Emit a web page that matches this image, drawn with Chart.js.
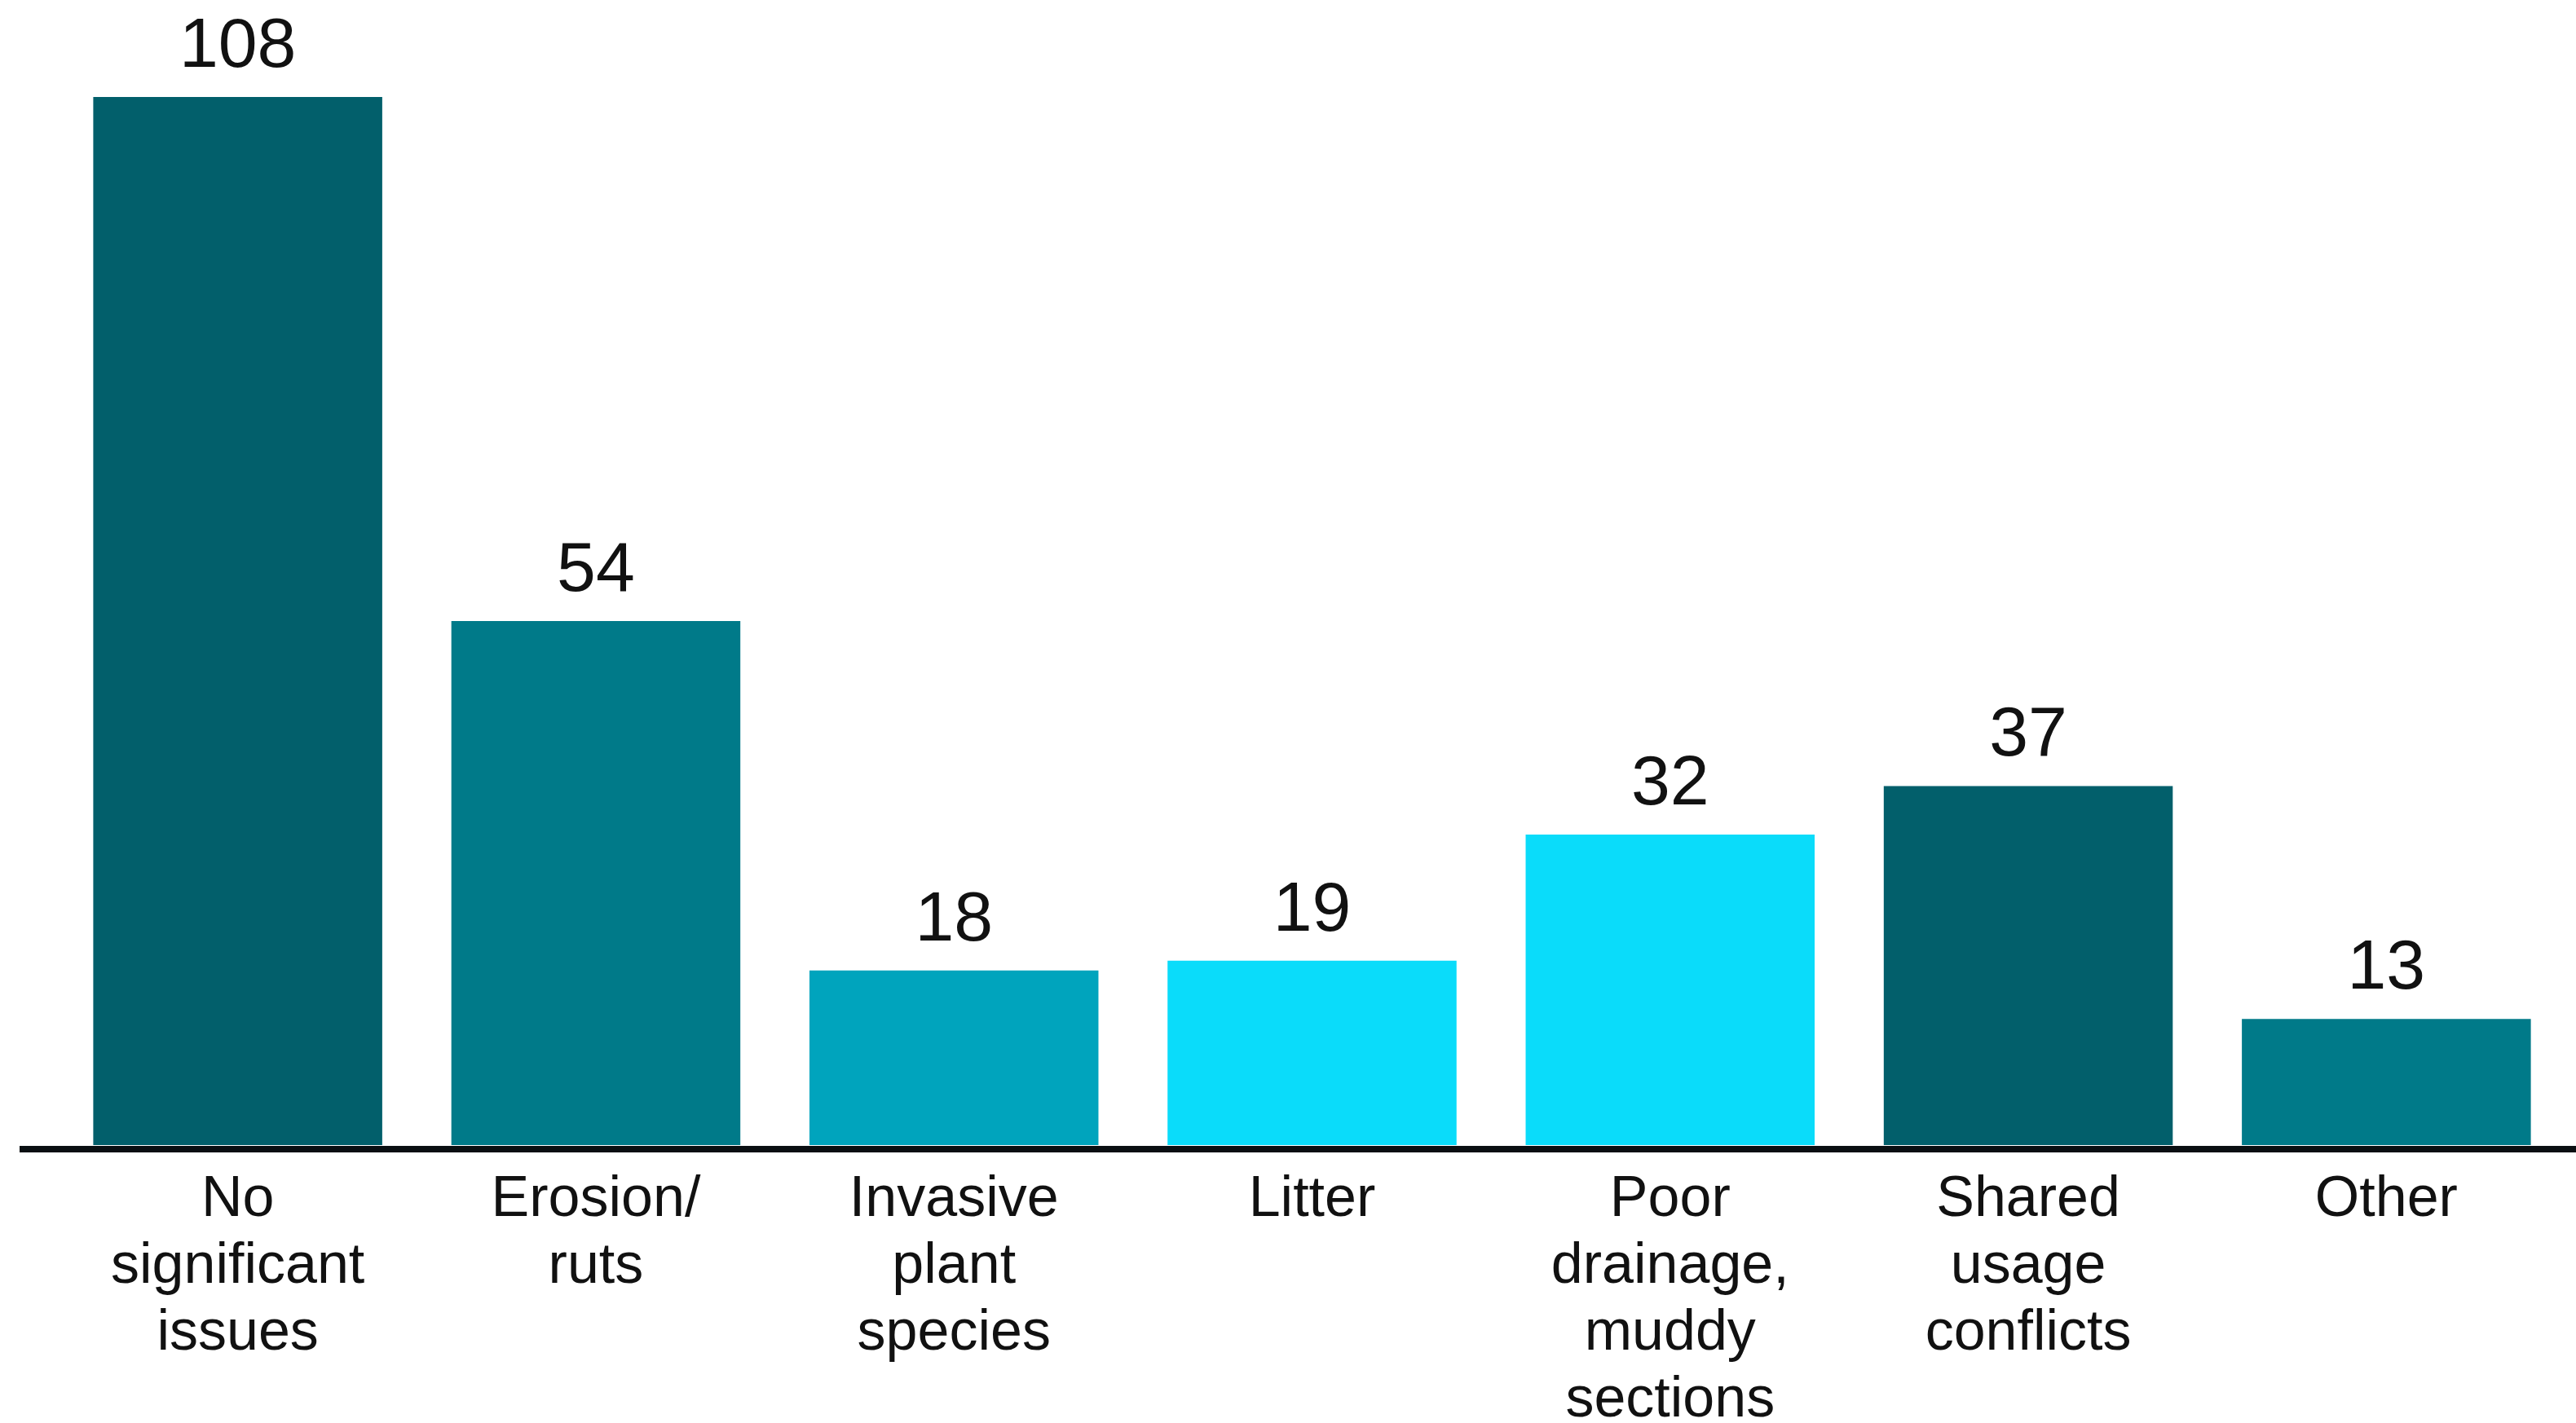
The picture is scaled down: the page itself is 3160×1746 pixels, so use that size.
<!DOCTYPE html>
<html>
<head>
<meta charset="utf-8">
<script src="https://cdn.jsdelivr.net/npm/chart.js@4.4.1/dist/chart.umd.min.js"></script>
<style>
  html, body { margin: 0; padding: 0; background: #fff; }
  #wrap { width: 3160px; height: 1746px; position: relative; }
</style>
</head>
<body>
<div id="wrap"><canvas id="chart"></canvas></div>
<script>
const categories = [
  ["No", "significant", "issues"],
  ["Erosion/", "ruts"],
  ["Invasive", "plant", "species"],
  ["Litter"],
  ["Poor", "drainage,", "muddy", "sections"],
  ["Shared", "usage", "conflicts"],
  ["Other"]
];
const counts = [108, 54, 18, 19, 32, 37, 13];
const barColors = ["#025f6b", "#007a89", "#00a4bd", "#0adcfa", "#0adcfa", "#025f6b", "#007a89"];

// value labels above each bar
const valueLabels = {
  id: "valueLabels",
  afterDatasetsDraw(chart) {
    const ctx = chart.ctx;
    const meta = chart.getDatasetMeta(0);
    ctx.save();
    ctx.font = "86px 'Liberation Sans', Arial, sans-serif";
    ctx.fillStyle = "#111";
    ctx.textAlign = "center";
    ctx.textBaseline = "alphabetic";
    meta.data.forEach((bar, i) => {
      ctx.fillText(String(counts[i]), bar.x, bar.y - 37);
    });
    ctx.restore();
  }
};

// baseline rule running across the full width
const baseLine = {
  id: "baseLine",
  afterDatasetsDraw(chart) {
    const ctx = chart.ctx;
    const y = chart.scales.y.getPixelForValue(0) + 5;
    ctx.save();
    ctx.strokeStyle = "#0a0f12";
    ctx.lineWidth = 8;
    ctx.beginPath();
    ctx.moveTo(24, y);
    ctx.lineTo(chart.width, y);
    ctx.stroke();
    ctx.restore();
  }
};

new Chart(document.getElementById("chart"), {
  type: "bar",
  data: {
    labels: categories,
    datasets: [{
      data: counts,
      backgroundColor: barColors,
      borderWidth: 0,
      categoryPercentage: 1,
      barPercentage: 0.807
    }]
  },
  options: {
    responsive: true,
    maintainAspectRatio: false,
    animation: false,
    layout: { padding: { left: 72, right: 13, top: 0, bottom: 0 } },
    plugins: { legend: { display: false }, tooltip: { enabled: false } },
    scales: {
      y: {
        display: false,
        min: 0,
        max: 118
      },
      x: {
        grid: { display: false, drawTicks: false },
        border: { display: false },
        afterFit(scale) { scale.height = 341; },
        ticks: {
          color: "#111",
          padding: 27,
          maxRotation: 0,
          autoSkip: false,
          font: { family: "'Liberation Sans', Arial, sans-serif", size: 70, lineHeight: 1.17 }
        }
      }
    }
  },
  plugins: [valueLabels, baseLine]
});
</script>
</body>
</html>
